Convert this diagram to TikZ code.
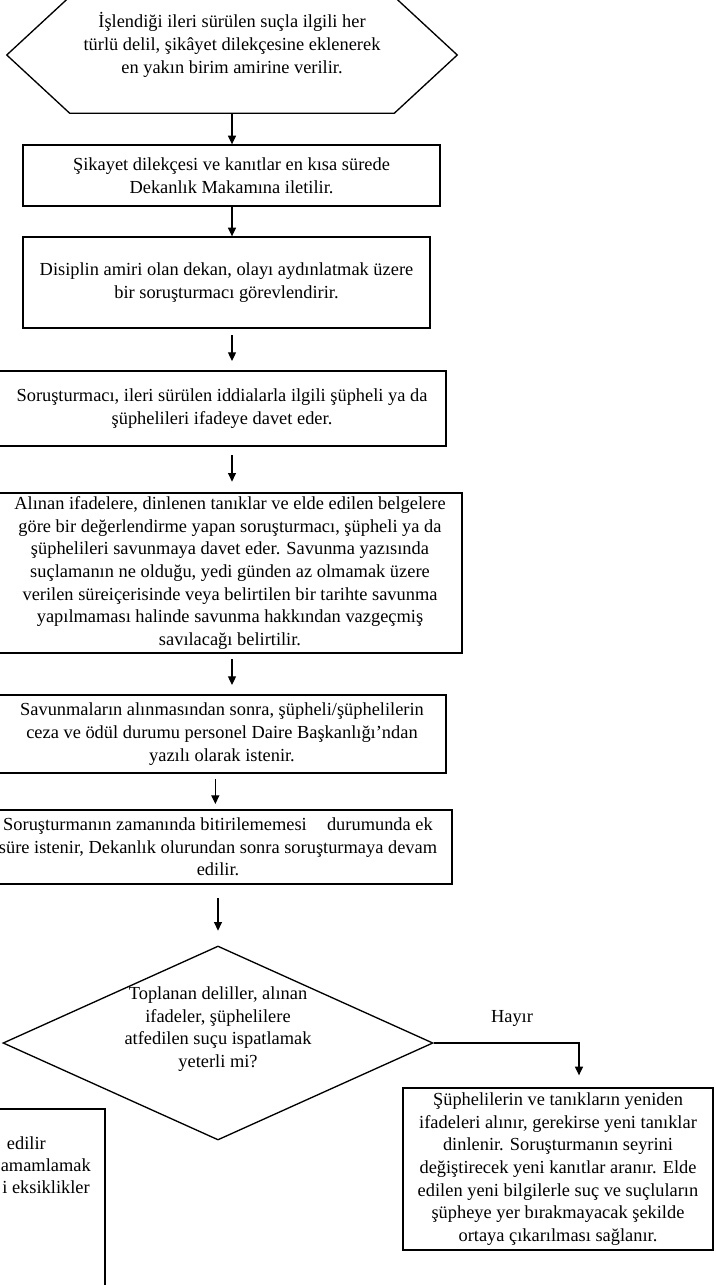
\documentclass[tikz,border=0pt]{standalone}
\usepackage{fontspec}
\setmainfont{Liberation Serif}
\usetikzlibrary{shapes.geometric,arrows.meta}
\begin{document}
\begin{tikzpicture}[x=0.75pt,y=-0.75pt,
  every node/.style={font=\fontsize{13.8}{17}\selectfont},
  box/.style={draw, line width=1pt, inner sep=0pt, align=center},
  txt/.style={inner sep=0pt, align=center},
  arr/.style={line width=0.9pt, -{Triangle[length=6.5pt,width=6pt]}},
  ln/.style={line width=1pt}]
\useasboundingbox (0,0) rectangle (715,1285);
\clip (0,0) rectangle (715,1285);

% hexagon
\node[inner sep=0pt, minimum width=337.5pt, minimum height=87pt] (hex) at (232,55) {};
\draw[ln] (hex.west) -- ([xshift=47.25pt]hex.north west) -- ([xshift=-47.25pt]hex.north east)
  -- (hex.east) -- ([xshift=-47.25pt]hex.south east) -- ([xshift=47.25pt]hex.south west) -- cycle;
\node[txt] (hext) at (232,45) {İşlendiği ileri sürülen suçla ilgili her\\türlü delil, şikâyet dilekçesine eklenerek\\en yakın birim amirine verilir.};

\node[box, minimum width=312.75pt, minimum height=45.75pt] (b2) at (231.5,175.5)
  {Şikayet dilekçesi ve kanıtlar en kısa sürede\\Dekanlık Makamına iletilir.};
\node[box, minimum width=305.25pt, minimum height=68.25pt] (b3) at (226.5,282.5)
  {Disiplin amiri olan dekan, olayı aydınlatmak üzere\\bir soruşturmacı görevlendirir.};
\node[box, minimum width=336pt, minimum height=56.25pt] (b4) at (222,408.5)
  {Soruşturmacı, ileri sürülen iddialarla ilgili şüpheli ya da\\şüphelileri ifadeye davet eder.};
\node[box, minimum width=348pt, minimum height=120pt] (b5) at (230,573)
  {Alınan ifadelere, dinlenen tanıklar ve elde edilen belgelere\\göre bir değerlendirme yapan soruşturmacı, şüpheli ya da\\şüphelileri savunmaya davet eder. Savunma yazısında\\suçlamanın ne olduğu, yedi günden az olmamak üzere\\verilen süreiçerisinde veya belirtilen bir tarihte savunma\\yapılmaması halinde savunma hakkından vazgeçmiş\\savılacağı belirtilir.};
\node[box, minimum width=336pt, minimum height=58.5pt] (b6) at (222,734)
  {Savunmaların alınmasından sonra, şüpheli/şüphelilerin\\ceza ve ödül durumu personel Daire Başkanlığı’ndan\\yazılı olarak istenir.};
\node[box, minimum width=351pt, minimum height=55.5pt] (b7) at (218,847)
  {Soruşturmanın zamanında bitirilememesi\hspace{1.1em}durumunda ek\\süre istenir, Dekanlık olurundan sonra soruşturmaya devam\\edilir.};

\node[diamond, draw, line width=1pt, aspect=2.2, inner sep=0pt, minimum width=322.5pt, minimum height=145.5pt] (dia) at (218,1043) {};
\node[txt] (diat) at (218,1029) {Toplanan deliller, alınan\\ifadeler, şüphelilere\\atfedilen suçu ispatlamak\\yeterli mi?};

\node[box, minimum width=232.5pt, minimum height=121.5pt] (rb) at (558,1169)
  {Şüphelilerin ve tanıkların yeniden\\ifadeleri alınır, gerekirse yeni tanıklar\\dinlenir. Soruşturmanın seyrini\\değiştirecek yeni kanıtlar aranır. Elde\\edilen yeni bilgilerle suç ve suçluların\\şüpheye yer bırakmayacak şekilde\\ortaya çıkarılması sağlanır.};

\node[box, minimum width=266.25pt, minimum height=135.75pt] (lb) at (-72.5,1199.5) {};
\node[inner sep=0pt, anchor=east] (lt1) at (46,1143) {edilir};
\node[inner sep=0pt, anchor=east] (lt2) at (91,1165) {amamlamak};
\node[inner sep=0pt, anchor=east] (lt3) at (90,1187) {i eksiklikler};

\node[inner sep=0pt] (hay) at (512,1018) {Hayır};

% connectors
\draw[arr] (hex.south) -- (hex.south |- b2.north);
\draw[arr] (b2.south -| hex.south) -- (hex.south |- b3.north);
\draw[arr, shorten <=5pt, shorten >=7pt] (b3.south -| hex.south) -- (hex.south |- b4.north);
\draw[arr, shorten <=6.5pt, shorten >=8pt] (b4.south -| hex.south) -- (hex.south |- b5.north);
\draw[arr, shorten <=4pt, shorten >=7pt] (b5.south -| hex.south) -- (hex.south |- b6.north);
\draw[arr, shorten <=4pt, shorten >=4pt] ([xshift=-2pt]b6.south -| dia.north) -- ([xshift=-2pt]b7.north -| dia.north);
\draw[arr, shorten <=10pt, shorten >=11pt] (b7.south -| dia.north) -- (dia.north);
\draw[arr, shorten >=9pt] (dia.east) -| ([xshift=15.75pt]rb.north);
\end{tikzpicture}
\end{document}
